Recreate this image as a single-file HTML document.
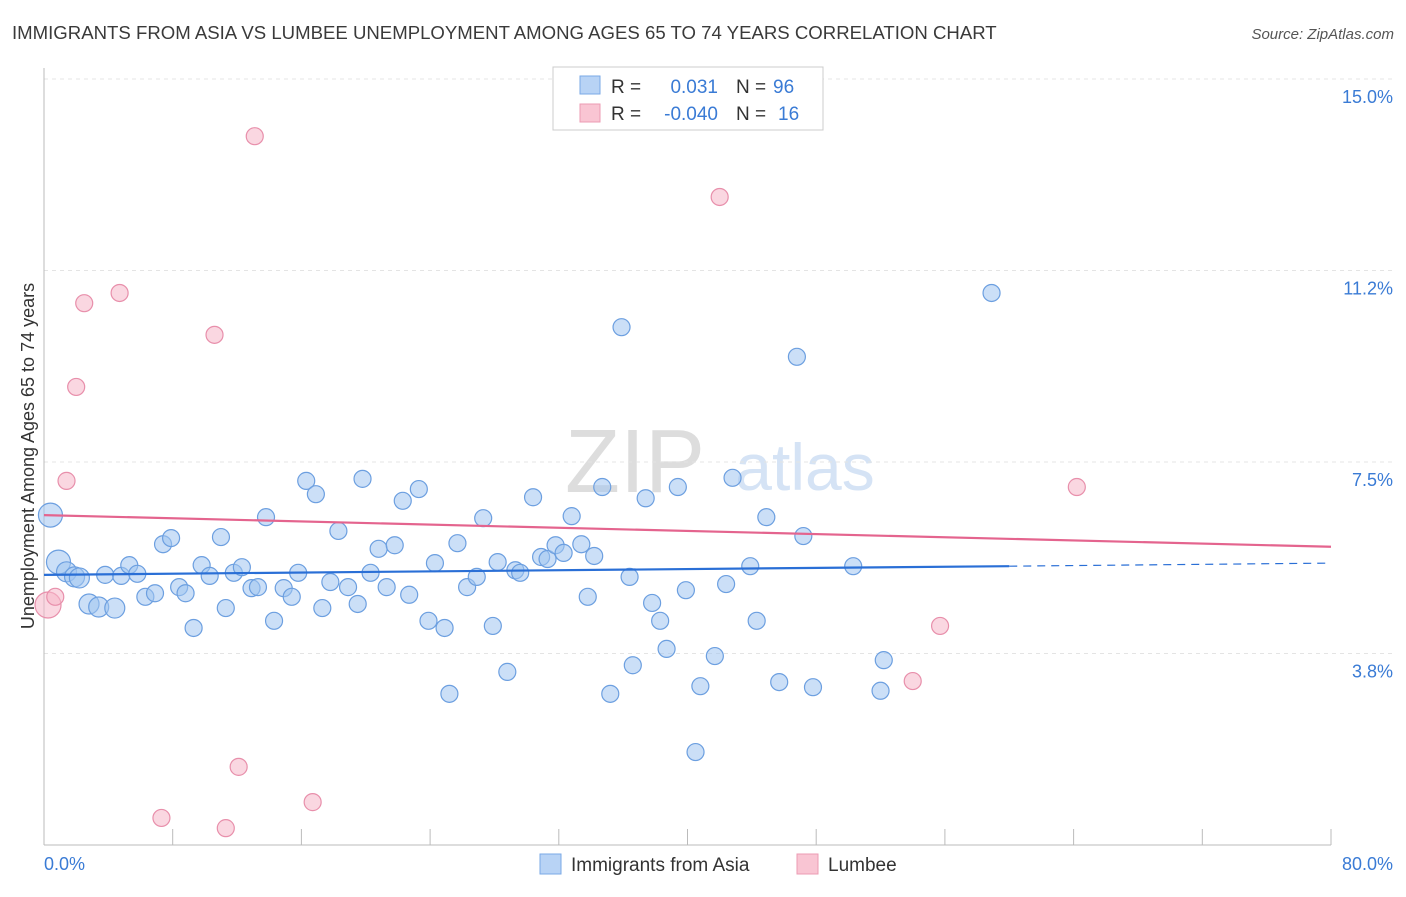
<!DOCTYPE html>
<html><head><meta charset="utf-8"><style>
body{margin:0;background:#fff;font-family:"Liberation Sans",sans-serif}
svg text{font-family:"Liberation Sans",sans-serif}
</style></head><body>
<svg id="c" width="1406" height="892">
<text x="12" y="39" font-size="18.6" fill="#3a3a3a">IMMIGRANTS FROM ASIA VS LUMBEE UNEMPLOYMENT AMONG AGES 65 TO 74 YEARS CORRELATION CHART</text>
<text x="1394" y="39" font-size="15" fill="#555" font-style="italic" text-anchor="end">Source: ZipAtlas.com</text>
<text x="635" y="492" font-size="90" fill="#ddd" font-family="Liberation Serif" text-anchor="middle">ZIP</text>
<text x="805" y="490" font-size="66" fill="#d5e3f5" text-anchor="middle">atlas</text>
<text transform="translate(34,456) rotate(-90)" font-size="18" fill="#333" text-anchor="middle">Unemployment Among Ages 65 to 74 years</text>
<g id="grid"></g><g id="marks"></g>
<g>
<rect x="553" y="67" width="270" height="63" fill="#fff" stroke="#ccc"/>
<rect x="580" y="76" width="20" height="18" fill="#b8d3f5" stroke="#7aa8e6"/>
<rect x="580" y="104" width="20" height="18" fill="#f9c5d3" stroke="#ec9bb3"/>
<text x="611" y="93" font-size="19" fill="#333">R = </text><text x="718" y="93" font-size="19" fill="#3a7bd5" text-anchor="end">0.031</text>
<text x="736" y="93" font-size="19" fill="#333">N = </text><text x="773" y="93" font-size="19" fill="#3a7bd5">96</text>
<text x="611" y="120" font-size="19" fill="#333">R = </text><text x="718" y="120" font-size="19" fill="#3a7bd5" text-anchor="end">-0.040</text>
<text x="736" y="120" font-size="19" fill="#333">N = </text><text x="778" y="120" font-size="19" fill="#3a7bd5">16</text>
</g>
<g>
<rect x="540" y="854" width="21" height="20" fill="#b8d3f5" stroke="#7aa8e6"/>
<text x="571" y="871" font-size="19" fill="#333">Immigrants from Asia</text>
<rect x="797" y="854" width="21" height="20" fill="#f9c5d3" stroke="#ec9bb3"/>
<text x="828" y="871" font-size="19" fill="#333">Lumbee</text>
</g>
<text x="44" y="870" font-size="18" fill="#3a7bd5">0.0%</text>
<text x="1393" y="870" font-size="18" fill="#3a7bd5" text-anchor="end">80.0%</text>
</svg>
<script>
const yTicks=[15.0,11.25,7.5,3.75];
const yTickLabels=["15.0%","11.2%","7.5%","3.8%"];
const xTicks=[0,8,16,24,32,40,48,56,64,72,80];
const asiaX=[0.4,0.9,1.4,1.9,2.2,2.8,3.4,4.4,3.8,4.8,5.3,5.8,6.3,6.9,7.4,7.9,8.4,8.8,9.3,9.8,10.3,11.0,11.3,11.8,12.3,12.9,13.3,13.8,14.3,14.9,15.4,15.8,16.3,16.9,17.3,17.8,18.3,18.9,19.5,19.8,20.3,20.8,21.3,21.8,22.3,22.7,23.3,23.9,24.3,24.9,25.2,25.7,26.3,26.9,27.3,27.9,28.2,28.8,29.3,29.6,30.4,30.9,31.3,31.8,32.3,32.8,33.4,33.8,34.2,34.7,35.2,35.9,36.4,36.6,37.4,37.8,38.3,38.7,39.4,39.9,40.5,40.8,41.7,42.4,42.8,43.9,44.3,44.9,45.7,46.8,47.2,47.8,50.3,52.0,52.2,58.9];
const asiaY=[6.46,5.54,5.35,5.25,5.23,4.72,4.66,4.64,5.29,5.27,5.48,5.31,4.86,4.93,5.89,6.01,5.05,4.93,4.25,5.48,5.27,6.03,4.64,5.33,5.44,5.03,5.05,6.42,4.39,5.03,4.86,5.33,7.13,6.87,4.64,5.15,6.15,5.05,4.72,7.17,5.33,5.80,5.05,5.87,6.74,4.90,6.97,4.39,5.52,4.25,2.96,5.91,5.05,5.25,6.40,4.29,5.54,3.39,5.38,5.33,6.81,5.64,5.60,5.87,5.72,6.44,5.89,4.86,5.66,7.01,2.96,10.14,5.25,3.52,6.79,4.74,4.39,3.84,7.01,4.99,1.82,3.11,3.70,5.11,7.19,5.46,4.39,6.42,3.19,9.56,6.05,3.09,5.46,3.02,3.62,10.81];
const asiaBig=[0,1,2,3,4,5,6,7];
const lumX=[0.25,0.7,1.4,2.0,2.5,4.7,7.3,10.6,11.3,12.1,13.1,16.7,42.0,54.0,55.7,64.2];
const lumY=[4.70,4.86,7.13,8.97,10.61,10.81,0.53,9.99,0.33,1.53,13.88,0.84,12.69,3.21,4.29,7.01];
const asiaTrend=[5.29,5.46,5.52];
const lumTrend=[6.46,5.84];
const X=v=>44+v*(1331-44)/80, Y=v=>845-v*(845-79)/15;
const NS="http://www.w3.org/2000/svg";
function mk(t,a,p){const e=document.createElementNS(NS,t);for(const k in a)e.setAttribute(k,a[k]);p.appendChild(e);return e;}
const g=document.getElementById('grid'),m=document.getElementById('marks');
yTicks.forEach((v,i)=>{
 const l=mk('line',{x1:44,x2:1394,y1:Y(v),y2:Y(v),stroke:'#e4e4e4','stroke-dasharray':'4,4'},g);
 
 
 const t=mk('text',{x:1393,y:Y(v)+24,'font-size':18,fill:'#3a7bd5','text-anchor':'end'},g);t.textContent=yTickLabels[i];
 
 
});
const ax=mk('line',{x1:44,x2:1331,y1:845,y2:845,stroke:'#bbb'},g);


const ay=mk('line',{x1:44,x2:44,y1:68,y2:845,stroke:'#bbb'},g);


xTicks.forEach(v=>{const l=mk('line',{x1:X(v),x2:X(v),y1:829,y2:845,stroke:'#bbb'},g);
 
 });
asiaX.forEach((v,i)=>{const r=asiaBig.includes(i)?(i<2?12:10):8.5;
 const c=mk('circle',{cx:X(v),cy:Y(asiaY[i]),r:r,fill:'rgba(160,196,240,0.55)',stroke:'#6c9fe0','stroke-width':1.2},m);
 
 });
lumX.forEach((v,i)=>{const r=i==0?13:8.5;
 const c=mk('circle',{cx:X(v),cy:Y(lumY[i]),r:r,fill:'rgba(246,182,201,0.55)',stroke:'#e88fab','stroke-width':1.2},m);
 
 });
const t1=mk('line',{x1:X(0),y1:Y(asiaTrend[0]),x2:X(60),y2:Y(asiaTrend[1]),stroke:'#2a6fd6','stroke-width':2.2},m);


const t2=mk('line',{x1:X(60),y1:Y(asiaTrend[1]),x2:X(80),y2:Y(asiaTrend[2]),stroke:'#2a6fd6','stroke-width':1.2,'stroke-dasharray':'8,6'},m);


const t3=mk('line',{x1:X(0),y1:Y(lumTrend[0]),x2:X(80),y2:Y(lumTrend[1]),stroke:'#e4648e','stroke-width':2.2},m);


</script>
</body></html>
